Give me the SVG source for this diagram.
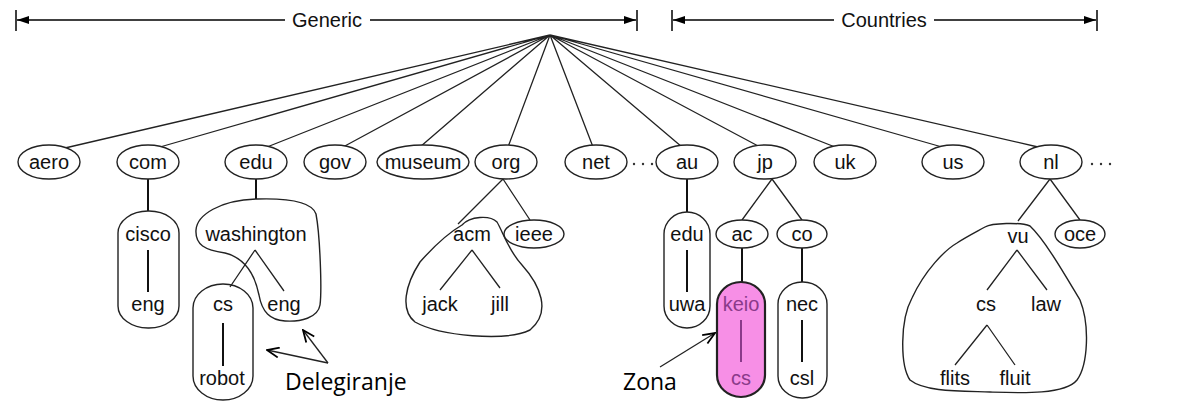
<svg xmlns="http://www.w3.org/2000/svg" width="1180" height="406" viewBox="0 0 1180 406">
<defs>
<marker id="fa" viewBox="0 0 12 8" refX="12" refY="4" markerWidth="12" markerHeight="8" markerUnits="userSpaceOnUse" orient="auto">
<path d="M0,0 L12,4 L0,8 Z" fill="#000"/>
</marker>
<marker id="oa" viewBox="0 0 14 12" refX="13" refY="6" markerWidth="14" markerHeight="12" markerUnits="userSpaceOnUse" orient="auto">
<path d="M1,1 L13,6 L1,11" fill="none" stroke="#000" stroke-width="1.8"/>
</marker>
<style>
text{font-family:"Liberation Sans",Arial,sans-serif;font-size:20px;fill:#111;text-anchor:middle}
.big{font-family:"Open Sans","DejaVu Sans",sans-serif;font-size:23px;fill:#000;text-anchor:start}
.pk{fill:#8a3a8a}
.n{fill:#fff;stroke:#222;stroke-width:1.4}
.b{fill:none;stroke:#222;stroke-width:1.4}
.e{stroke:#222;stroke-width:1.3;fill:none}
.v{stroke:#111;stroke-width:2;fill:none}
.bar{stroke:#000;stroke-width:1.5;fill:none}
.dot{fill:#333}
</style>
</defs>
<rect width="1180" height="406" fill="#fff"/>
<g id="bar-generic">
<line class="bar" x1="16" y1="10" x2="16" y2="31"/>
<line class="bar" x1="637" y1="10" x2="637" y2="31"/>
<line class="bar" x1="285" y1="20" x2="17" y2="20" marker-end="url(#fa)"/>
<line class="bar" x1="370" y1="20" x2="636" y2="20" marker-end="url(#fa)"/>
<text x="327" y="27">Generic</text>
</g>
<g id="bar-countries">
<line class="bar" x1="672" y1="10" x2="672" y2="31"/>
<line class="bar" x1="1097" y1="10" x2="1097" y2="31"/>
<line class="bar" x1="834" y1="20" x2="673" y2="20" marker-end="url(#fa)"/>
<line class="bar" x1="934" y1="20" x2="1096" y2="20" marker-end="url(#fa)"/>
<text x="884" y="27">Countries</text>
</g>
<g id="connectors">
<path class="e" d="M550,35 L65,148 M550,35 L160,147 M550,35 L267,147 M550,35 L343,147 M550,35 L420,147 M550,35 L508,147 M550,35 L593,147 M550,35 L682,147 M550,35 L760,147 M550,35 L835,147 M550,35 L942,147 M550,35 L1038,147"/>
<path class="v" d="M148,179 L148,211 M148,250 L148,292 M256,179 L256,199 M223,323 L223,366 M687,179 L687,212 M687,250 L687,292 M742,248 L742,282 M802,248 L802,282 M802,320 L802,362"/>
<path class="e" d="M255,250 L230,287 M255,250 L284,291 M503,179 L458,224 M503,179 L530,220 M472,250 L440,290 M472,250 L500,288 M772,179 L742,220 M772,179 L802,220 M1050,179 L1018,221 M1050,179 L1080,220 M1017,250 L987,290 M1017,250 L1047,290 M987,325 L955,365 M987,325 L1015,365"/>
</g>
<g id="root-level">
<g id="n-aero"><ellipse class="n" cx="49" cy="162" rx="31" ry="17"/><text x="49" y="169">aero</text></g>
<g id="n-com"><ellipse class="n" cx="148" cy="162" rx="31" ry="17"/><text x="148" y="169">com</text></g>
<g id="n-edu"><ellipse class="n" cx="256" cy="162" rx="31" ry="17"/><text x="256" y="169">edu</text></g>
<g id="n-gov"><ellipse class="n" cx="335" cy="162" rx="31" ry="17"/><text x="335" y="169">gov</text></g>
<g id="n-museum"><ellipse class="n" cx="423" cy="162" rx="46" ry="17"/><text x="423" y="169">museum</text></g>
<g id="n-org"><ellipse class="n" cx="506" cy="162" rx="31" ry="17"/><text x="506" y="169">org</text></g>
<g id="n-net"><ellipse class="n" cx="596" cy="162" rx="31" ry="17"/><text x="596" y="169">net</text></g>
<g id="dots1"><circle class="dot" cx="634" cy="164" r="1.2"/><circle class="dot" cx="643" cy="164" r="1.2"/><circle class="dot" cx="652" cy="164" r="1.2"/></g>
<g id="n-au"><ellipse class="n" cx="687" cy="162" rx="31" ry="17"/><text x="687" y="169">au</text></g>
<g id="n-jp"><ellipse class="n" cx="765" cy="162" rx="31" ry="17"/><text x="765" y="169">jp</text></g>
<g id="n-uk"><ellipse class="n" cx="845" cy="162" rx="31" ry="17"/><text x="845" y="169">uk</text></g>
<g id="n-us"><ellipse class="n" cx="953" cy="162" rx="31" ry="17"/><text x="953" y="169">us</text></g>
<g id="n-nl"><ellipse class="n" cx="1051" cy="162" rx="31" ry="17"/><text x="1051" y="169">nl</text></g>
<g id="dots2"><circle class="dot" cx="1092" cy="164" r="1.2"/><circle class="dot" cx="1101" cy="164" r="1.2"/><circle class="dot" cx="1110" cy="164" r="1.2"/></g>
</g>
<g id="z-cisco"><rect class="b" x="118" y="211" width="61" height="117" rx="30" ry="22"/><text x="148" y="241">cisco</text><text x="148" y="311">eng</text></g>
<g id="z-washington"><path class="b" d="M257,199 C290,198 312,202 316,214 C320,235 322,290 320,305 C318,318 300,322 285,321 C270,320 262,312 259,295 C255,275 245,258 225,253 C205,250 195,245 196,230 C197,215 220,200 257,199 Z"/><text x="256" y="241">washington</text><text x="284" y="311">eng</text></g>
<g id="z-cs"><rect class="b" x="193" y="284" width="60" height="116" rx="30" ry="24"/><text x="223" y="311">cs</text><text x="222" y="385">robot</text></g>
<g id="z-acm"><path class="b" d="M462,225 C470,216 490,215 497,222 C503,232 508,250 522,265 C540,285 552,312 530,330 C505,342 440,336 415,322 C400,310 405,285 420,262 C435,245 450,232 462,225 Z"/><text x="472" y="241">acm</text><text x="440" y="311">jack</text><text x="500" y="311">jill</text></g>
<g id="n-ieee"><ellipse class="n" cx="534" cy="234" rx="30" ry="14"/><text x="534" y="241">ieee</text></g>
<g id="z-au-edu"><rect class="b" x="664" y="212" width="46" height="116" rx="23" ry="22"/><text x="687" y="241">edu</text><text x="687" y="311">uwa</text></g>
<g id="n-ac"><ellipse class="n" cx="742" cy="234" rx="26" ry="14"/><text x="742" y="241">ac</text></g>
<g id="n-co"><ellipse class="n" cx="802" cy="234" rx="25" ry="14"/><text x="802" y="241">co</text></g>
<g id="z-keio"><rect x="717" y="282" width="48" height="115" rx="24" ry="22" fill="#f78fe6" stroke="#222" stroke-width="2.2"/><line x1="741" y1="320" x2="741" y2="362" stroke="#8a3a8a" stroke-width="2"/><text class="pk" x="741" y="311">keio</text><text class="pk" x="741" y="385">cs</text></g>
<g id="z-nec"><rect class="b" x="778" y="282" width="49" height="116" rx="24" ry="22"/><text x="802" y="311">nec</text><text x="802" y="385">csl</text></g>
<g id="z-vu"><path class="b" d="M985,227 C992,223 1020,222 1030,226 C1045,240 1065,275 1080,300 C1090,325 1088,365 1077,380 C1065,395 1020,393 990,392 C960,391 925,392 910,380 C900,365 900,320 912,298 C925,270 945,250 957,243 C968,236 978,231 985,227 Z"/><text x="1018" y="243">vu</text><text x="986" y="311">cs</text><text x="1046" y="311">law</text><text x="955" y="385">flits</text><text x="1015" y="385">fluit</text></g>
<g id="n-oce"><ellipse class="n" cx="1080" cy="234" rx="25" ry="14"/><text x="1080" y="241">oce</text></g>
<g id="label-delegiranje">
<path class="e" stroke-width="1.8" d="M328,363 L267,350" marker-end="url(#oa)"/>
<path class="e" stroke-width="1.8" d="M328,363 L303,330" marker-end="url(#oa)"/>
<text class="big" x="285" y="390">Delegiranje</text>
</g>
<g id="label-zona">
<path class="e" stroke-width="1.8" d="M660,367 L715,333" marker-end="url(#oa)"/>
<text class="big" x="623" y="390">Zona</text>
</g>
</svg>
